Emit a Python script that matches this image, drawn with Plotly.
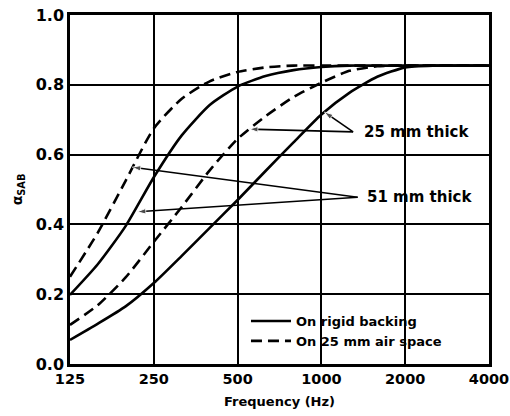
import math
import plotly.graph_objects as go

# ---- data ----
tick_freqs = [125, 250, 500, 1000, 2000, 4000]
tick_labels = ["125", "250", "500", "1000", "2000", "4000"]
y_ticks = [0.0, 0.2, 0.4, 0.6, 0.8, 1.0]

# one-third-octave frequencies (Hz) at which the curves were read
freq = [125, 157, 198, 250, 315, 397, 500, 630, 794, 1000, 1260, 1587, 2000, 2520, 3175, 4000]

# sound absorption coefficient for each panel
rigid25_abs = [0.069, 0.115, 0.165, 0.232, 0.31, 0.39, 0.47, 0.553, 0.635, 0.715, 0.777, 0.823, 0.850, 0.855, 0.855, 0.855]
air25_abs   = [0.112, 0.168, 0.248, 0.35, 0.45, 0.555, 0.645, 0.71, 0.765, 0.806, 0.84, 0.853, 0.855, 0.855, 0.855, 0.855]
rigid51_abs = [0.198, 0.285, 0.395, 0.535, 0.655, 0.742, 0.795, 0.825, 0.842, 0.851, 0.855, 0.855, 0.855, 0.855, 0.855, 0.855]
air51_abs   = [0.25, 0.375, 0.525, 0.675, 0.76, 0.81, 0.837, 0.85, 0.855, 0.855, 0.855, 0.855, 0.855, 0.855, 0.855, 0.855]

legend_names = ["On rigid backing", "On 25 mm air space"]
label_25 = "25 mm thick"
label_51 = "51 mm thick"
x_title = "Frequency (Hz)"
y_title = "α<sub>SAB</sub>"

# label anchor points (freq, coefficient) and the curve points they point to
label25_at = (1300, 0.665)
label51_at = (1350, 0.478)
label25_tips = [(1025, 0.722), (551, 0.673)]
label51_tips = [(209, 0.564), (218, 0.436)]

FONT = "DejaVu Sans"
DASH = "11px,6px"
LW = 2.6

fig = go.Figure()

def curve(y, dash, name=None, show=False):
    fig.add_trace(go.Scatter(
        x=freq, y=y, mode="lines",
        line=dict(color="black", width=LW, dash=dash, shape="spline", smoothing=0.6),
        name=name, showlegend=show, hoverinfo="skip"))

curve(rigid25_abs, "solid", legend_names[0], True)
curve(air25_abs, DASH, legend_names[1], True)
curve(rigid51_abs, "solid")
curve(air51_abs, DASH)

# leader lines with arrow heads
for tail, tips in ((label25_at, label25_tips), (label51_at, label51_tips)):
    for tip in tips:
        fig.add_trace(go.Scatter(
            x=[tail[0], tip[0]], y=[tail[1], tip[1]], mode="lines+markers",
            line=dict(color="black", width=1.6),
            marker=dict(symbol="arrow", angleref="previous", size=[0, 9], color="black"),
            showlegend=False, hoverinfo="skip"))

lg = math.log10
label_font = dict(family=FONT, size=15, color="black", weight="bold")
annotations = [
    dict(x=lg(label25_at[0]), y=label25_at[1], xref="x", yref="y", text=label_25,
         showarrow=False, xanchor="left", yanchor="middle", xshift=9, font=label_font),
    dict(x=lg(label51_at[0]), y=label51_at[1], xref="x", yref="y", text=label_51,
         showarrow=False, xanchor="left", yanchor="middle", xshift=7, font=label_font),
]

fig.update_layout(
    width=510, height=416,
    margin=dict(l=70, r=21, t=15, b=52),
    paper_bgcolor="white", plot_bgcolor="white",
    font=dict(family=FONT, color="black"),
    annotations=annotations,
    shapes=[dict(type="rect", xref="paper", yref="paper", x0=0.425, x1=0.994,
                 y0=0.018, y1=0.188, fillcolor="white", line=dict(width=0),
                 layer="between")],
    legend=dict(
        x=0.42, y=0.166, xanchor="left", yanchor="top",
        bgcolor="rgba(0,0,0,0)", borderwidth=0,
        font=dict(family=FONT, size=13, color="black", weight="bold"),
        tracegroupgap=0, itemwidth=40,
    ),
    xaxis=dict(
        type="log", range=[lg(125), lg(4000)],
        tickvals=tick_freqs, ticktext=tick_labels,
        showgrid=True, gridcolor="black", gridwidth=2.2,
        showline=True, linecolor="black", linewidth=2.5, mirror=True,
        ticks="", zeroline=False, ticklabeloverflow="allow", automargin=False,
        tickfont=dict(family=FONT, size=14.5, color="black", weight="bold"),
        title=dict(text=x_title, standoff=11,
                   font=dict(family=FONT, size=13, color="black", weight="bold")),
    ),
    yaxis=dict(
        range=[0, 1.0], tickvals=y_ticks, tickformat=".1f",
        showgrid=True, gridcolor="black", gridwidth=2.2,
        showline=True, linecolor="black", linewidth=2.5, mirror=True,
        ticks="", zeroline=False, automargin=False,
        tickfont=dict(family=FONT, size=16, color="black", weight="bold"),
        title=dict(text=y_title, standoff=10,
                   font=dict(family=FONT, size=14, color="black", weight="bold")),
    ),
)

# remove the page's default 8px body margin so the 510x416 figure fills the window
fig.write_html("out.html",
               config={"displayModeBar": False},
               post_script="document.body.style.margin='0';"
                           "document.documentElement.style.overflow='hidden';")
